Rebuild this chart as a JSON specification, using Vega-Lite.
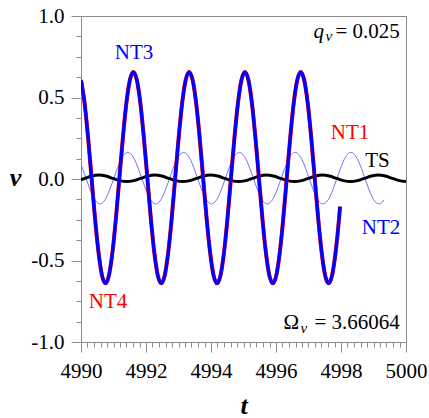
{
  "$schema": "https://vega.github.io/schema/vega-lite/v6.json",
  "width": 325,
  "height": 326,
  "autosize": {"type": "none"},
  "padding": {"left": 81, "top": 16, "right": 23, "bottom": 76},
  "background": "white",
  "config": {"view": {"stroke": "#8c8c8c", "strokeWidth": 1}, "font": "Liberation Serif"},
  "datasets": {
    "nt": [
      {"t":4990.0,"v":0.607},{"t":4990.110,"v":0.466},{"t":4990.217,"v":0.256},{"t":4990.324,"v":0.008},{"t":4990.431,"v":-0.240},{"t":4990.539,"v":-0.450},{"t":4990.646,"v":-0.591},{"t":4990.753,"v":-0.640},{"t":4990.860,"v":-0.591},{"t":4990.968,"v":-0.450},{"t":4991.075,"v":-0.240},{"t":4991.182,"v":0.008},{"t":4991.290,"v":0.256},{"t":4991.397,"v":0.466},{"t":4991.504,"v":0.607},{"t":4991.611,"v":0.656},
      {"t":4991.719,"v":0.607},{"t":4991.826,"v":0.466},{"t":4991.933,"v":0.256},{"t":4992.041,"v":0.008},{"t":4992.148,"v":-0.240},{"t":4992.255,"v":-0.450},{"t":4992.362,"v":-0.591},{"t":4992.470,"v":-0.640},{"t":4992.577,"v":-0.591},{"t":4992.684,"v":-0.450},{"t":4992.792,"v":-0.240},{"t":4992.899,"v":0.008},{"t":4993.006,"v":0.256},{"t":4993.113,"v":0.466},{"t":4993.221,"v":0.607},{"t":4993.328,"v":0.656},
      {"t":4993.435,"v":0.607},{"t":4993.543,"v":0.466},{"t":4993.650,"v":0.256},{"t":4993.757,"v":0.008},{"t":4993.864,"v":-0.240},{"t":4993.972,"v":-0.450},{"t":4994.079,"v":-0.591},{"t":4994.186,"v":-0.640},{"t":4994.293,"v":-0.591},{"t":4994.401,"v":-0.450},{"t":4994.508,"v":-0.240},{"t":4994.615,"v":0.008},{"t":4994.723,"v":0.256},{"t":4994.830,"v":0.466},{"t":4994.937,"v":0.607},{"t":4995.044,"v":0.656},
      {"t":4995.152,"v":0.607},{"t":4995.259,"v":0.466},{"t":4995.366,"v":0.256},{"t":4995.474,"v":0.008},{"t":4995.581,"v":-0.240},{"t":4995.688,"v":-0.450},{"t":4995.795,"v":-0.591},{"t":4995.903,"v":-0.640},{"t":4996.010,"v":-0.591},{"t":4996.117,"v":-0.450},{"t":4996.225,"v":-0.240},{"t":4996.332,"v":0.008},{"t":4996.439,"v":0.256},{"t":4996.546,"v":0.466},{"t":4996.654,"v":0.607},{"t":4996.761,"v":0.656},
      {"t":4996.868,"v":0.607},{"t":4996.976,"v":0.466},{"t":4997.083,"v":0.256},{"t":4997.190,"v":0.008},{"t":4997.297,"v":-0.240},{"t":4997.405,"v":-0.450},{"t":4997.512,"v":-0.591},{"t":4997.619,"v":-0.640},{"t":4997.726,"v":-0.591},{"t":4997.834,"v":-0.450},{"t":4997.941,"v":-0.240},{"t":4997.97,"v":-0.17}
    ],
    "nt2": [
      {"t":4990.0,"v":0.089},{"t":4990.046,"v":0.065},{"t":4990.153,"v":0.005},{"t":4990.260,"v":-0.055},{"t":4990.368,"v":-0.107},{"t":4990.475,"v":-0.141},{"t":4990.582,"v":-0.153},{"t":4990.690,"v":-0.141},{"t":4990.797,"v":-0.107},{"t":4990.904,"v":-0.055},{"t":4991.011,"v":0.005},{"t":4991.119,"v":0.065},{"t":4991.226,"v":0.117},{"t":4991.333,"v":0.151},{"t":4991.440,"v":0.163},
      {"t":4991.548,"v":0.151},{"t":4991.655,"v":0.117},{"t":4991.762,"v":0.065},{"t":4991.870,"v":0.005},{"t":4991.977,"v":-0.055},{"t":4992.084,"v":-0.107},{"t":4992.191,"v":-0.141},{"t":4992.299,"v":-0.153},{"t":4992.406,"v":-0.141},{"t":4992.513,"v":-0.107},{"t":4992.621,"v":-0.055},{"t":4992.728,"v":0.005},{"t":4992.835,"v":0.065},{"t":4992.942,"v":0.117},{"t":4993.050,"v":0.151},{"t":4993.157,"v":0.163},
      {"t":4993.264,"v":0.151},{"t":4993.372,"v":0.117},{"t":4993.479,"v":0.065},{"t":4993.586,"v":0.005},{"t":4993.693,"v":-0.055},{"t":4993.801,"v":-0.107},{"t":4993.908,"v":-0.141},{"t":4994.015,"v":-0.153},{"t":4994.122,"v":-0.141},{"t":4994.230,"v":-0.107},{"t":4994.337,"v":-0.055},{"t":4994.444,"v":0.005},{"t":4994.552,"v":0.065},{"t":4994.659,"v":0.117},{"t":4994.766,"v":0.151},{"t":4994.873,"v":0.163},
      {"t":4994.981,"v":0.151},{"t":4995.088,"v":0.117},{"t":4995.195,"v":0.065},{"t":4995.303,"v":0.005},{"t":4995.410,"v":-0.055},{"t":4995.517,"v":-0.107},{"t":4995.624,"v":-0.141},{"t":4995.732,"v":-0.153},{"t":4995.839,"v":-0.141},{"t":4995.946,"v":-0.107},{"t":4996.054,"v":-0.055},{"t":4996.161,"v":0.005},{"t":4996.268,"v":0.065},{"t":4996.375,"v":0.117},{"t":4996.483,"v":0.151},{"t":4996.590,"v":0.163},
      {"t":4996.697,"v":0.151},{"t":4996.804,"v":0.117},{"t":4996.912,"v":0.065},{"t":4997.019,"v":0.005},{"t":4997.126,"v":-0.055},{"t":4997.234,"v":-0.107},{"t":4997.341,"v":-0.141},{"t":4997.448,"v":-0.153},{"t":4997.555,"v":-0.141},{"t":4997.663,"v":-0.107},{"t":4997.770,"v":-0.055},{"t":4997.877,"v":0.005},{"t":4997.985,"v":0.065},{"t":4998.092,"v":0.117},{"t":4998.199,"v":0.151},{"t":4998.306,"v":0.163},
      {"t":4998.414,"v":0.151},{"t":4998.521,"v":0.117},{"t":4998.628,"v":0.065},{"t":4998.736,"v":0.005},{"t":4998.843,"v":-0.055},{"t":4998.950,"v":-0.107},{"t":4999.057,"v":-0.141},{"t":4999.165,"v":-0.153},{"t":4999.272,"v":-0.141},{"t":4999.32,"v":-0.128}
    ],
    "ts": [
      {"t":4990.0,"v":-0.004},{"t":4990.120,"v":0.004},{"t":4990.335,"v":0.018},{"t":4990.550,"v":0.024},{"t":4990.765,"v":0.018},{"t":4990.980,"v":0.004},{"t":4991.195,"v":-0.010},{"t":4991.410,"v":-0.016},{"t":4991.625,"v":-0.010},{"t":4991.840,"v":0.004},{"t":4992.055,"v":0.018},{"t":4992.270,"v":0.024},{"t":4992.485,"v":0.018},{"t":4992.700,"v":0.004},{"t":4992.915,"v":-0.010},{"t":4993.130,"v":-0.016},
      {"t":4993.345,"v":-0.010},{"t":4993.560,"v":0.004},{"t":4993.775,"v":0.018},{"t":4993.990,"v":0.024},{"t":4994.205,"v":0.018},{"t":4994.420,"v":0.004},{"t":4994.635,"v":-0.010},{"t":4994.850,"v":-0.016},{"t":4995.065,"v":-0.010},{"t":4995.280,"v":0.004},{"t":4995.495,"v":0.018},{"t":4995.710,"v":0.024},{"t":4995.925,"v":0.018},{"t":4996.140,"v":0.004},{"t":4996.355,"v":-0.010},{"t":4996.570,"v":-0.016},
      {"t":4996.785,"v":-0.010},{"t":4997.000,"v":0.004},{"t":4997.215,"v":0.018},{"t":4997.430,"v":0.024},{"t":4997.645,"v":0.018},{"t":4997.860,"v":0.004},{"t":4998.075,"v":-0.010},{"t":4998.290,"v":-0.016},{"t":4998.505,"v":-0.010},{"t":4998.720,"v":0.004},{"t":4998.935,"v":0.018},{"t":4999.150,"v":0.024},{"t":4999.365,"v":0.018},{"t":4999.580,"v":0.004},{"t":4999.795,"v":-0.010},{"t":5000.0,"v":-0.016}
    ],
    "labels": [
      {"label":"NT3","series":"NT3","t":4991.63,"v":0.771},
      {"label":"NT1","series":"NT1","t":4998.28,"v":0.285},
      {"label":"TS","series":"TS","t":4999.12,"v":0.109},
      {"label":"NT2","series":"NT2","t":4999.23,"v":-0.299},
      {"label":"NT4","series":"NT4","t":4990.83,"v":-0.757}
    ],
    "ann": [
      {"label":"= 0.025","t":4999.81,"v":0.863},
      {"label":"= 3.66064","t":4999.81,"v":-0.920},
      {"label":"Ω","t":4996.71,"v":-0.920}
    ],
    "annItalic": [
      {"label":"q","t":4997.48,"v":0.863}
    ],
    "annSub": [
      {"label":"v","t":4997.73,"v":0.845},
      {"label":"v","t":4996.96,"v":-0.945}
    ]
  },
  "layer": [
    {
      "data": {"name": "nt2"},
      "mark": {"type": "line", "color": "#6f6fff", "strokeWidth": 1, "interpolate": "monotone", "clip": true},
      "encoding": {
        "x": {"field": "t", "type": "quantitative", "scale": {"domain": [4990, 5000], "nice": false, "zero": false},
          "axis": {"values": [4990,4990.2,4990.4,4990.6,4990.8,4991,4991.2,4991.4,4991.6,4991.8,4992,4992.2,4992.4,4992.6,4992.8,4993,4993.2,4993.4,4993.6,4993.8,4994,4994.2,4994.4,4994.6,4994.8,4995,4995.2,4995.4,4995.6,4995.8,4996,4996.2,4996.4,4996.6,4996.8,4997,4997.2,4997.4,4997.6,4997.8,4998,4998.2,4998.4,4998.6,4998.8,4999,4999.2,4999.4,4999.6,4999.8,5000],
            "tickCount": 1000,
            "labelExpr": "abs(datum.value / 2 - round(datum.value / 2)) < 0.001 ? format(datum.value, 'd') : ''",
            "labelFont": "Liberation Serif", "labelFontSize": 21, "labelColor": "#000000", "labelPadding": 8, "labelFlush": false, "labelOverlap": false, "labelBound": false,
            "tickSize": {"condition": {"test": "abs(datum.value / 2 - round(datum.value / 2)) < 0.001", "value": 10}, "value": 5},
            "tickColor": "#8c8c8c", "domainColor": "#8c8c8c", "grid": false,
            "title": "t", "titleFont": "Liberation Serif", "titleFontSize": 26, "titleFontStyle": "italic", "titleFontWeight": "bold", "titleColor": "#000000", "titleBaseline": "alphabetic", "titleY": 71}},
        "y": {"field": "v", "type": "quantitative", "scale": {"domain": [-1, 1], "nice": false, "zero": false},
          "axis": {"values": [-1,-0.875,-0.75,-0.625,-0.5,-0.375,-0.25,-0.125,0,0.125,0.25,0.375,0.5,0.625,0.75,0.875,1],
            "tickCount": 1000,
            "labelExpr": "abs(datum.value * 2 - round(datum.value * 2)) < 0.001 ? replace(format(datum.value, '.1f'), '\u2212', '-') : ''",
            "labelFont": "Liberation Serif", "labelFontSize": 21, "labelColor": "#000000", "labelPadding": 7, "labelFlush": false, "labelOverlap": false,
            "tickSize": {"condition": {"test": "abs(datum.value * 2 - round(datum.value * 2)) < 0.001", "value": 10}, "value": 5},
            "tickColor": "#8c8c8c", "domainColor": "#8c8c8c", "grid": false,
            "title": "v", "titleFont": "Liberation Serif", "titleFontSize": 26, "titleFontStyle": "italic", "titleFontWeight": "bold", "titleColor": "#000000", "titleAngle": 0, "titleAlign": "center", "titleBaseline": "alphabetic", "titleX": -66, "titleY": 169}}
      }
    },
    {
      "data": {"name": "ts"},
      "mark": {"type": "line", "color": "#000000", "strokeWidth": 3, "interpolate": "monotone", "clip": true},
      "encoding": {
        "x": {"field": "t", "type": "quantitative"},
        "y": {"field": "v", "type": "quantitative"}
      }
    },
    {
      "data": {"name": "nt"},
      "mark": {"type": "line", "color": "#ff0000", "strokeWidth": 4.0, "interpolate": "monotone", "clip": true},
      "encoding": {
        "x": {"field": "t", "type": "quantitative"},
        "y": {"field": "v", "type": "quantitative"}
      }
    },
    {
      "data": {"name": "nt"},
      "mark": {"type": "line", "color": "#0000ff", "strokeWidth": 3.3, "interpolate": "monotone", "clip": true},
      "encoding": {
        "x": {"field": "t", "type": "quantitative"},
        "y": {"field": "v", "type": "quantitative"}
      }
    },
    {
      "data": {"name": "labels"},
      "mark": {"type": "text", "font": "Liberation Serif", "fontSize": 21, "align": "center", "baseline": "middle"},
      "encoding": {
        "x": {"field": "t", "type": "quantitative"},
        "y": {"field": "v", "type": "quantitative"},
        "text": {"field": "label"},
        "color": {"field": "series", "type": "nominal", "scale": {"domain": ["NT1","NT2","NT3","NT4","TS"], "range": ["#ff0000","#0000ff","#0000ff","#ff0000","#000000"]}, "legend": null}
      }
    },
    {
      "data": {"name": "ann"},
      "mark": {"type": "text", "font": "Liberation Serif", "fontSize": 21, "align": "right", "baseline": "alphabetic", "color": "#000000"},
      "encoding": {
        "x": {"field": "t", "type": "quantitative"},
        "y": {"field": "v", "type": "quantitative"},
        "text": {"field": "label"}
      }
    },
    {
      "data": {"name": "annItalic"},
      "mark": {"type": "text", "font": "Liberation Serif", "fontSize": 21, "fontStyle": "italic", "align": "right", "baseline": "alphabetic", "color": "#000000"},
      "encoding": {
        "x": {"field": "t", "type": "quantitative"},
        "y": {"field": "v", "type": "quantitative"},
        "text": {"field": "label"}
      }
    },
    {
      "data": {"name": "annSub"},
      "mark": {"type": "text", "font": "Liberation Serif", "fontSize": 15, "fontStyle": "italic", "align": "right", "baseline": "alphabetic", "color": "#000000"},
      "encoding": {
        "x": {"field": "t", "type": "quantitative"},
        "y": {"field": "v", "type": "quantitative"},
        "text": {"field": "label"}
      }
    }
  ]
}
